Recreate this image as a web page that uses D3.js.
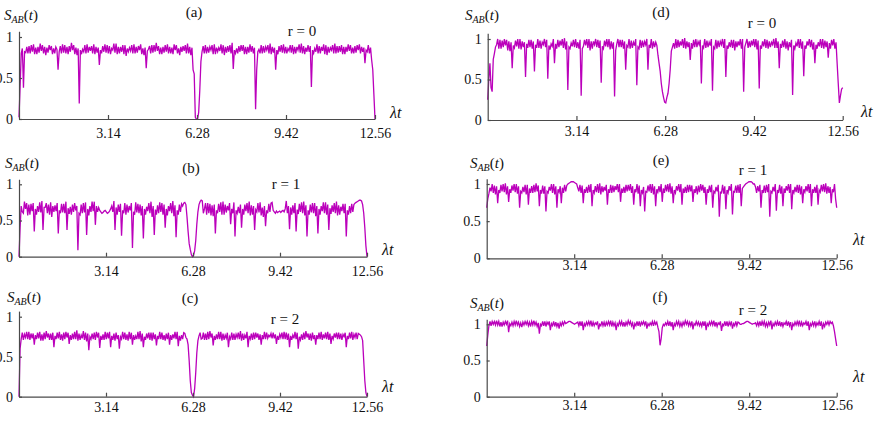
<!doctype html>
<html>
<head>
<script src="https://cdnjs.cloudflare.com/ajax/libs/d3/7.8.5/d3.min.js"></script>
<style>
  body { margin: 0; background: #fff; }
  svg { display: block; font-family: "Liberation Serif", "DejaVu Serif", serif; }
  .axis path, .axis line { stroke: #4a4a4a; stroke-width: 1.2; }
  .axis text { font-family: "Liberation Serif", "DejaVu Serif", serif; font-size: 14px; fill: #111; }
  .lbl { font-family: "Liberation Serif", "DejaVu Serif", serif; fill: #111; }
</style>
</head>
<body>
<div id="viz"></div>
<script>
// time axis and ticks
var tEnd = 12.56;
var tTicks = [3.14, 6.28, 9.42, 12.56];
var sTicks = [0, 0.5, 1];
var panelTags = ["(a)", "(b)", "(c)", "(d)", "(e)", "(f)"];
var rLabels = ["r = 0", "r = 1", "r = 2", "r = 0", "r = 1", "r = 2"];

// S_AB(t), x100, evenly spaced samples over 0..tEnd
var sA = [2,40,80,86,38,82,81,88,80,89,80,90,82,91,79,87,79,88,81,92,83,90,80,88,78,87,81,90,84,89,79,86,80,88,85,60,82,89,80,91,
  81,90,80,88,79,89,82,93,84,90,79,87,78,86,19,84,79,85,82,90,80,91,81,88,83,89,80,91,79,88,81,87,66,84,80,89,82,91,81,90,
  80,89,79,86,84,92,81,92,79,88,80,88,82,90,79,90,77,86,82,87,83,90,80,91,80,88,81,89,84,91,79,86,78,87,62,83,85,89,80,90,
  81,90,82,93,83,89,79,87,79,88,81,90,82,91,80,88,80,87,79,91,84,90,80,86,78,88,82,89,83,90,80,92,80,88,78,87,60,55,2,0,
  0,8,35,70,82,89,80,90,80,88,81,88,84,90,79,91,79,87,82,87,83,91,80,90,78,88,81,89,82,90,80,93,61,84,80,86,80,89,82,90,
  83,90,79,88,79,88,81,91,82,89,80,87,12,60,82,85,80,90,80,89,81,88,84,90,80,92,79,88,81,87,60,84,79,89,82,90,81,91,80,88,
  80,86,83,90,81,90,79,88,80,88,84,91,81,92,80,89,79,87,82,90,82,89,39,84,80,86,82,91,80,89,80,88,83,91,79,90,78,88,81,87,
  84,90,80,92,80,89,81,89,82,90,79,88,79,88,82,91,83,90,80,87,80,89,81,90,84,91,80,88,82,87,68,84,82,90,80,87,72,60,30,0];

var sB = [0,40,70,62,60,76,66,74,57,72,58,73,63,74,35,66,58,70,62,75,61,77,37,68,68,74,60,72,58,75,55,70,62,71,63,74,32,64,60,73,
  61,73,60,76,37,67,59,69,58,72,62,74,64,70,9,60,58,72,60,74,61,75,30,66,57,70,62,76,63,76,44,70,62,68,64,62,60,61,63,64,
  62,60,61,63,66,70,62,77,37,68,58,72,62,73,29,64,60,74,58,72,61,70,64,74,12,62,58,75,61,73,60,72,57,70,25,66,58,69,63,74,
  60,76,55,70,30,65,58,71,60,75,62,74,58,72,40,66,57,70,63,74,60,77,56,71,27,64,58,72,62,73,70,74,75,72,55,35,18,10,3,0,
  2,8,22,45,62,72,76,78,77,60,66,74,58,74,60,73,57,71,56,72,32,64,60,73,62,75,58,76,58,72,61,70,64,74,45,66,60,75,28,64,
  60,69,60,72,40,66,58,72,63,74,60,76,57,71,58,70,37,65,62,74,61,75,57,68,55,70,42,64,60,73,62,74,75,64,62,60,63,61,62,63,
  61,63,64,62,66,77,60,70,38,68,58,71,60,74,35,65,59,73,62,75,60,76,57,71,28,64,58,72,61,74,60,74,56,70,32,66,58,70,63,75,
  60,75,58,72,37,67,59,71,62,74,60,76,57,71,58,69,63,73,60,73,28,64,58,70,60,73,62,72,74,75,76,77,78,78,77,72,60,40,15,0];

var sC = [0,60,72,80,71,78,74,81,72,81,71,79,73,79,65,77,72,80,73,81,70,78,70,80,72,82,74,79,71,79,71,80,62,76,72,80,73,81,71,78,
  70,80,72,81,74,80,66,77,71,79,72,81,72,83,70,79,71,77,73,82,71,80,69,79,58,75,72,79,72,80,71,81,74,80,61,76,71,78,71,81,
  72,80,73,81,62,76,71,79,70,80,72,77,60,75,72,81,72,80,71,78,70,81,72,80,65,77,71,76,72,81,72,82,69,79,62,75,71,79,73,80,
  71,80,70,80,72,78,64,76,72,81,72,80,71,77,70,79,72,80,65,77,71,78,73,81,72,81,63,76,70,77,72,80,79,74,72,65,45,20,5,2,
  0,10,30,55,70,76,80,72,73,80,71,79,71,81,72,82,74,79,64,76,71,78,72,81,72,81,70,79,71,77,73,80,62,75,72,80,71,79,71,78,
  74,80,72,82,70,79,71,77,73,81,62,76,72,79,71,80,72,80,74,79,71,78,65,77,72,81,72,80,73,77,75,79,73,80,73,78,66,76,71,78,
  74,80,72,81,72,80,71,79,62,76,71,77,73,81,72,80,60,75,71,78,71,80,72,82,74,79,71,79,70,80,72,77,65,77,72,80,72,81,71,78,
  73,80,72,81,71,79,66,76,72,79,74,80,72,80,72,79,71,78,75,80,62,76,72,80,73,81,71,78,74,80,72,79,78,77,75,70,45,20,5,0];

var sD = [25,50,70,40,35,75,82,90,93,100,88,99,88,98,90,100,92,99,86,97,85,96,64,92,89,98,91,100,88,100,87,97,90,96,53,94,89,99,90,99,
  88,97,60,93,89,100,89,98,88,96,93,100,90,99,51,92,87,94,91,100,70,94,88,99,90,98,92,100,89,101,87,97,37,90,88,95,91,99,90,100,
  89,96,88,99,30,88,91,99,92,100,89,100,86,97,88,97,93,100,90,99,89,98,46,91,88,98,91,100,90,100,87,97,88,96,29,86,94,100,90,99,
  90,99,88,97,62,92,90,100,88,98,89,96,92,100,43,90,88,99,89,98,90,97,93,100,62,93,89,100,88,97,90,96,92,80,70,60,45,35,28,22,
  21,28,33,45,62,85,90,95,88,100,89,99,90,97,92,100,89,101,88,97,90,96,74,95,88,99,90,100,90,97,93,99,45,92,89,100,89,98,90,96,
  92,100,36,90,88,99,88,98,90,97,93,100,89,100,53,92,88,96,90,99,89,99,86,97,90,97,92,100,88,100,35,90,95,100,89,97,90,98,92,100,
  90,100,87,98,39,92,88,97,91,100,89,99,88,97,90,96,93,100,89,101,89,97,64,94,89,98,90,100,88,97,86,96,90,99,31,92,88,95,91,100,
  89,100,88,97,54,92,88,97,92,100,90,99,87,96,70,93,88,96,91,100,89,100,88,98,90,97,77,95,88,99,92,100,88,96,70,45,21,30,38,40];

var sE = [68,80,87,95,90,100,88,98,86,97,74,92,88,99,90,100,89,101,86,97,76,93,88,98,91,100,89,100,87,97,68,90,88,96,89,99,86,99,72,94,
  88,97,88,99,89,101,90,98,70,92,87,98,87,97,63,90,88,96,91,100,88,100,86,97,68,93,89,97,74,95,88,99,90,98,100,101,102,103,103,103,
  102,101,100,95,90,99,88,98,74,93,88,96,88,99,89,100,70,92,88,97,89,100,88,101,86,97,89,96,91,99,72,93,88,99,88,98,89,97,92,100,
  89,100,76,94,88,96,88,99,90,99,91,100,88,97,72,93,89,100,87,98,70,92,88,96,63,90,89,98,90,100,88,100,86,97,70,93,89,97,89,100,
  76,94,88,99,90,100,89,101,87,97,74,92,88,97,91,100,89,100,72,94,88,96,88,99,89,99,90,98,76,93,88,97,86,98,89,100,91,99,88,96,
  72,93,88,98,89,99,68,90,88,96,90,99,56,89,88,99,87,97,66,92,88,97,91,100,59,90,89,98,88,99,88,100,70,94,96,98,100,101,102,103,
  103,103,102,100,100,96,88,97,90,99,68,92,88,98,88,99,89,100,56,90,88,96,90,100,64,92,88,99,87,97,70,94,88,97,91,100,88,100,66,92,
  88,96,89,99,88,99,86,97,74,93,89,97,90,100,88,100,70,93,88,96,88,99,72,92,89,99,90,100,89,101,87,97,88,96,74,93,89,100,80,68];

var sF = [70,85,98,104,98,104,100,104,99,105,99,104,97,103,97,103,99,104,100,105,89,101,98,103,98,104,99,105,99,103,97,102,96,103,99,104,100,104,98,103,
  97,104,99,105,99,103,97,102,87,100,98,104,98,104,97,103,100,104,92,101,98,104,97,103,97,102,94,102,98,103,99,104,101,102,103,104,104,103,102,101,
  100,101,102,103,98,104,98,104,92,101,98,103,99,104,99,105,97,103,98,102,100,104,93,100,98,104,98,103,97,103,99,104,99,105,97,103,98,102,92,101,
  98,104,99,104,97,103,97,103,99,105,100,104,98,102,93,101,98,104,98,104,97,103,100,104,99,104,94,101,98,102,99,104,98,104,100,103,96,90,71,80,
  95,100,98,102,99,104,98,104,97,103,92,101,98,104,99,104,97,102,97,103,99,105,100,104,98,103,98,104,93,101,99,104,99,103,98,102,97,104,98,104,
  92,101,98,103,99,104,99,105,97,103,97,102,100,104,91,100,98,104,98,104,97,103,99,104,94,101,98,104,98,103,102,100,100,101,101,102,103,104,104,103,
  102,101,100,101,101,102,98,103,98,104,98,104,99,104,97,102,97,103,99,105,93,101,98,103,99,104,98,104,97,103,97,102,100,104,98,104,98,103,92,101,
  98,103,99,104,99,105,97,103,98,102,100,104,98,104,92,101,98,103,98,104,97,102,99,104,98,104,93,101,97,103,100,104,99,104,101,103,98,90,80,70];

var series = [sA, sB, sC, sD, sE, sF];

// plot boxes (pixel layout) and label spots for each panel
var boxes = [
  { x0: 19, x1: 375, y0: 119, y1: 37, sx: 4, sy: 20, tx: 194, ty: 17, rx: 302, ry: 36, lx: 390, ly: 118, tb: 139 },
  { x0: 19, x1: 367, y0: 256.7, y1: 184.3, sx: 5, sy: 168, tx: 191, ty: 173, rx: 286, ry: 189, lx: 382, ly: 255, tb: 277 },
  { x0: 19, x1: 367, y0: 396.7, y1: 316.7, sx: 7, sy: 302, tx: 190, ty: 303, rx: 285, ry: 324, lx: 382, ly: 392, tb: 413 },
  { x0: 487.7, x1: 842.7, y0: 120, y1: 39, sx: 465, sy: 20, tx: 661, ty: 17, rx: 762, ry: 28, lx: 861, ly: 117, tb: 137 },
  { x0: 486.7, x1: 836.7, y0: 258.3, y1: 184, sx: 470, sy: 168, tx: 661, ty: 165, rx: 753, ry: 175, lx: 853, ly: 245, tb: 271 },
  { x0: 486.7, x1: 836.7, y0: 396.7, y1: 324.3, sx: 470, sy: 308, tx: 660, ty: 302, rx: 753, ry: 315, lx: 853, ly: 382, tb: 411 }
];

var svg = d3.select("#viz").append("svg")
  .attr("width", 879)
  .attr("height", 424);

boxes.forEach(function (b, k) {
  var yTop = 1.07;
  var x = d3.scaleLinear().domain([0, tEnd]).range([b.x0, b.x1]);
  var y = d3.scaleLinear().domain([0, yTop]).range([b.y0, b.y0 - yTop * (b.y0 - b.y1)]);
  var vals = series[k];
  var n = vals.length;

  // signal
  var line = d3.line()
    .x(function (d, i) { return x(i * tEnd / (n - 1)); })
    .y(function (d) { return y(d / 100); });
  svg.append("path")
    .datum(vals)
    .attr("d", line)
    .attr("fill", "none")
    .attr("stroke", "#bb00bb")
    .attr("stroke-width", 1.3)
    .attr("stroke-linejoin", "miter");

  // x axis, ticks pointing inward
  svg.append("g")
    .attr("class", "axis")
    .attr("transform", "translate(0," + b.y0 + ")")
    .call(d3.axisBottom(x).tickValues(tTicks).tickFormat(d3.format(".2f"))
      .tickSizeInner(-4).tickSizeOuter(0).tickPadding(b.tb - b.y0 - 11));

  // y axis
  svg.append("g")
    .attr("class", "axis")
    .attr("transform", "translate(" + b.x0 + ",0)")
    .call(d3.axisLeft(y).tickValues(sTicks).tickFormat(function (d) { return d; })
      .tickSizeInner(-3).tickSizeOuter(0).tickPadding(6));

  // S_AB(t)
  var s = svg.append("text").attr("class", "lbl")
    .attr("x", b.sx).attr("y", b.sy).style("font-size", "15px");
  s.append("tspan").style("font-style", "italic").text("S");
  s.append("tspan").style("font-style", "italic").style("font-size", "10px").attr("dy", 3).text("AB");
  s.append("tspan").attr("dy", -3).text("(");
  s.append("tspan").style("font-style", "italic").text("t");
  s.append("tspan").text(")");

  svg.append("text").attr("class", "lbl")
    .attr("x", b.tx).attr("y", b.ty)
    .attr("text-anchor", "middle")
    .style("font-size", "15px")
    .text(panelTags[k]);

  svg.append("text").attr("class", "lbl")
    .attr("x", b.rx).attr("y", b.ry)
    .attr("text-anchor", "middle")
    .style("font-size", "15px")
    .text(rLabels[k]);

  svg.append("text").attr("class", "lbl")
    .attr("x", b.lx).attr("y", b.ly)
    .style("font-size", "16px")
    .style("font-style", "italic")
    .text("λt");
});
</script>
</body>
</html>
